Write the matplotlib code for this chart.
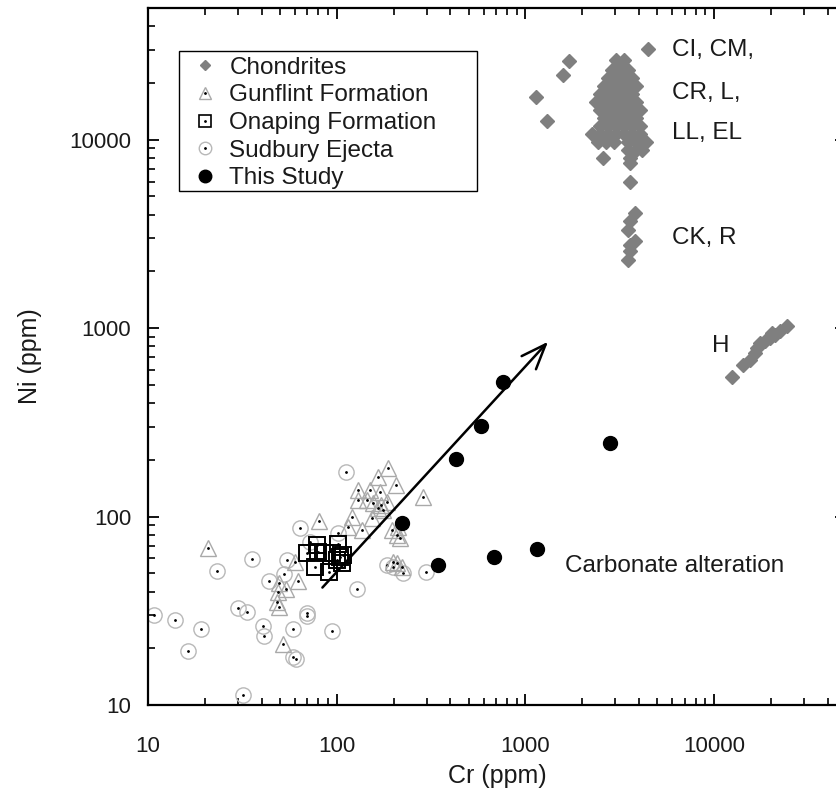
import matplotlib
matplotlib.use('Agg')
import matplotlib.pyplot as plt
from matplotlib.lines import Line2D
from matplotlib.patches import Rectangle

plt.rcParams['font.family'] = ['Liberation Sans', 'DejaVu Sans']

# ---------------- data ----------------
# Chondrites (Cr ppm, Ni ppm)
chond_cr = [4480, 1709, 1577, 1138, 1301,
            3020, 3330,
            2877, 3171, 3497,
            2740, 3020, 3330, 3672,
            2610, 2877, 3171, 3497, 3855,
            2486, 2740, 3020, 3330, 3672,
            2367, 2610, 2877, 3171, 3497, 3855,
            2486, 2740, 3020, 3330, 3672, 4048,
            2610, 2877, 3171, 3497, 3855,
            2486, 2740, 3020, 3330, 3672, 4048,
            2254, 2486, 2740, 3020, 3330, 3672, 4048,
            2426, 2675, 2948, 3497, 3855, 4355,
            3497, 3855, 4150,
            3583, 2578, 3583,
            3583, 3811, 3583, 3510, 3811, 3583, 3583, 3510,
            12400, 14290, 15490, 16480, 17510, 18620, 19770, 21030, 22340, 24250, 16870, 20270]
chond_ni = [30340, 26080, 22170, 16940, 12630,
            26610, 26610,
            23560, 23560, 23560,
            21370, 21370, 21370, 21370,
            19370, 19370, 19370, 19370, 19370,
            17570, 17570, 17570, 17570, 17570,
            15930, 15930, 15930, 15930, 15930, 15930,
            14450, 14450, 14450, 14450, 14450, 14450,
            13100, 13100, 13100, 13100, 13100,
            11880, 11880, 11880, 11880, 11880, 11880,
            10770, 10770, 10770, 10770, 10770, 10770, 10770,
            9770, 9770, 9770, 9770, 9770, 9770,
            8860, 8860, 8860,
            8035, 8035, 7560,
            5940, 4085, 3688, 3333, 2886, 2773, 2554, 2308,
            553, 639, 679, 738, 833, 850, 886, 923, 960, 1021, 787, 945]

# Gunflint Formation
gun_cr = [20.7, 80.9, 62.1, 49.6, 49.1, 53.9, 48.1, 49.6, 51.7, 187.7, 166, 206,
          130, 150, 169.5, 130, 144.5, 156, 172, 184, 166, 176, 120, 115.3, 135.6,
          154.5, 285.5, 195.5, 208, 216, 212, 208, 199.5, 221, 60.1]
gun_ni = [68, 95.2, 45.6, 44.3, 40.0, 41.2, 35.4, 33.3, 21.1, 182, 162, 147,
          138.6, 138.6, 135.8, 122.7, 122.7, 117.8, 115.4, 120, 110.8, 108.6, 100, 88.5, 85,
          98, 126.8, 85, 80, 76.8, 88.5, 56.5, 57.7, 54.3, 57.7]

# Onaping Formation
ona_cr = [69.3, 78.3, 80.0, 76.7, 91.4, 102, 94, 104.5, 108.5, 106.5, 100.3, 86.7]
ona_ni = [63.9, 70.7, 65.2, 54.3, 51, 71.6, 63.9, 61.3, 62.6, 56.5, 58.9, 63.9]

# Sudbury Ejecta
sud_cr = [10.7, 13.9, 16.2, 19.0, 23.3, 35.7, 30.1, 33.3, 40.5, 41.2, 43.8, 52.6,
          54.3, 58.9, 58.9, 61.0, 64.0, 69.3, 69.3, 72.2, 94.0, 102, 111.6, 128.6,
          184, 199.5, 225.4, 297, 32.0]
sud_ni = [30, 28.3, 19.4, 25.2, 51.7, 59.4, 32.9, 31.3, 26.1, 23.3, 45.6, 49.6,
          58.9, 25.2, 17.9, 17.5, 86.8, 30.9, 29.8, 73.6, 24.8, 81.6, 173, 41.2,
          55.4, 54.3, 50.1, 51, 11.3]

# This Study
this_cr = [761, 582, 429, 222, 2807, 344, 682, 1152]
this_ni = [519, 303, 202, 92.6, 246, 55.4, 61, 67.4]

# trend arrow (start, end)
arrow_cr = [84, 1318]
arrow_ni = [42, 847]

legend_labels = ['Chondrites', 'Gunflint Formation', 'Onaping Formation',
                 'Sudbury Ejecta', 'This Study']
group_labels = ['CI, CM,', 'CR, L,', 'LL, EL', 'CK, R', 'H', 'Carbonate alteration']

# ---------------- styles ----------------
GRAY = '#7f7f7f'
TRI_EC = '#a9a9a9'
CIR_EC = '#b8b8b8'
TXT = '#1a1a1a'

fig = plt.figure(figsize=(8.37, 7.93), dpi=100)
ax = fig.add_axes([148/837, 88/793, 698/837, 697/793])
ax.set_xscale('log')
ax.set_yscale('log')
ax.set_xlim(10, 50000)
ax.set_ylim(10, 50000)

# Sudbury ejecta circles
ax.plot(sud_cr, sud_ni, 'o', ms=11, mfc='none', mec=CIR_EC, mew=1.0, zorder=2)
ax.plot(sud_cr, sud_ni, '.', ms=2, color='k', zorder=2.1)
# Gunflint triangles
ax.plot(gun_cr, gun_ni, '^', ms=12, mfc='none', mec=TRI_EC, mew=1.0, zorder=2.2)
ax.plot(gun_cr, gun_ni, '.', ms=2, color='k', zorder=2.3)
# Onaping squares
ax.plot(ona_cr, ona_ni, 's', ms=11.5, mfc='none', mec='k', mew=1.4, zorder=2.5)
ax.plot(ona_cr, ona_ni, '.', ms=2, color='k', zorder=2.6)
# Chondrites
ax.plot(chond_cr, chond_ni, 'D', ms=6.8, color=GRAY, mec=GRAY, zorder=3)
# arrow
ax.annotate('', xy=(arrow_cr[1], arrow_ni[1]), xytext=(arrow_cr[0], arrow_ni[0]),
            arrowprops=dict(arrowstyle='->,head_length=0.9,head_width=0.35',
                            lw=1.8, color='k', shrinkA=0, shrinkB=0,
                            mutation_scale=20), zorder=4)
# This study
ax.plot(this_cr, this_ni, 'o', ms=10, color='k', zorder=5)

# group labels
pos = [(0.751, 0.940), (0.751, 0.878), (0.751, 0.821), (0.751, 0.670),
       (0.808, 0.515), (0.597, 0.199)]
for lab, (px, py) in zip(group_labels, pos):
    ax.text(px, py, lab, transform=ax.transAxes, ha='left', va='center',
            fontsize=17.5, color=TXT)

# ticks
ax.tick_params(which='both', direction='in', top=True, right=True,
               labelsize=16, labelcolor=TXT)
ax.tick_params(which='major', length=8, width=1.3)
ax.tick_params(which='minor', length=5, width=1.2)
ax.tick_params(axis='x', which='major', pad=22)
ax.tick_params(axis='y', which='major', pad=12)
ax.set_xticks([10, 100, 1000, 10000])
ax.set_xticklabels(['10', '100', '1000', '10000'])
ax.set_yticks([10, 100, 1000, 10000])
ax.set_yticklabels(['10', '100', '1000', '10000'])
for s in ax.spines.values():
    s.set_linewidth(1.6)

ax.set_xlabel('Cr (ppm)', fontsize=18, color=TXT, labelpad=5)
ax.set_ylabel('Ni (ppm)', fontsize=18, color=TXT, labelpad=20)

# legend
h1 = Line2D([], [], marker='D', ls='none', color=GRAY, ms=5.5)
h2 = (Line2D([], [], marker='^', ls='none', mfc='none', mec=TRI_EC, ms=9, mew=1.0),
      Line2D([], [], marker='.', ls='none', color='k', ms=2))
h3 = (Line2D([], [], marker='s', ls='none', mfc='none', mec='k', ms=9, mew=1.2),
      Line2D([], [], marker='.', ls='none', color='k', ms=2))
h4 = (Line2D([], [], marker='o', ls='none', mfc='none', mec=CIR_EC, ms=9, mew=1.0),
      Line2D([], [], marker='.', ls='none', color='k', ms=2))
h5 = Line2D([], [], marker='o', ls='none', color='k', ms=9)
leg = ax.legend([h1, h2, h3, h4, h5], legend_labels, loc='upper left',
                bbox_to_anchor=(0.052, 0.9387), borderaxespad=0,
                fontsize=17.5, frameon=False,
                borderpad=0.25, labelspacing=0.23,
                handlelength=1.2, handletextpad=0.4)
for t in leg.get_texts():
    t.set_color(TXT)
leg.set_zorder(6)
ax.add_patch(Rectangle((0.0448, 0.7375), 0.4261, 0.2013, transform=ax.transAxes,
                       facecolor='white', edgecolor='k', lw=1.0, zorder=5.5))

fig.savefig('out.png', dpi=100)
